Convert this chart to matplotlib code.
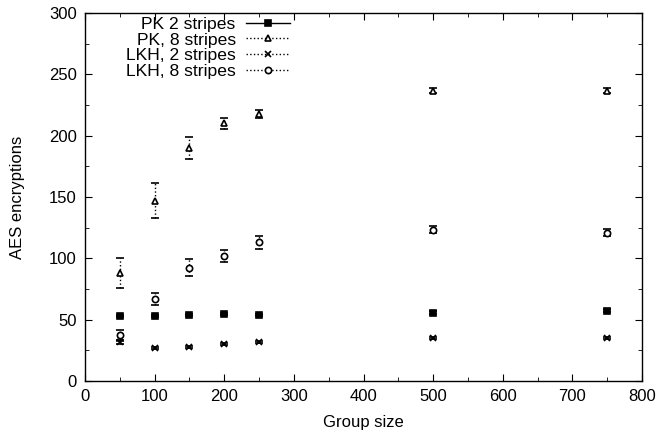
import numpy as np
import matplotlib
matplotlib.use('Agg')
import matplotlib.pyplot as plt
from matplotlib.lines import Line2D
from matplotlib.ticker import MultipleLocator

plt.rcParams['font.family'] = ['Liberation Sans', 'DejaVu Sans']

group_size = [50, 100, 150, 200, 250, 500, 750]

pk2 = [53, 53, 54, 54.6, 54, 55.7, 57.3]
pk2_err = [1, 1, 1, 1, 1, 1, 1]

pk8 = [88, 147, 190, 210, 217.5, 236.5, 236.5]
pk8_err = [12, 14.5, 9, 4.5, 3.5, 2, 2]

lkh2 = [31.5, 27, 28, 30, 31.8, 34.8, 34.8]
lkh2_err = [1, 0.8, 0.8, 0.8, 0.8, 0.8, 0.8]

lkh8 = [37.5, 67, 92.2, 102, 113, 123.5, 121]
lkh8_err = [4, 5, 7, 5, 5, 3, 3]

labels = ['PK 2 stripes', 'PK, 8 stripes', 'LKH, 2 stripes', 'LKH, 8 stripes']

fs = 12

fig = plt.figure(figsize=(6.59, 4.36), dpi=100)
ax = fig.add_axes([85 / 659, 1 - 381 / 436, (642 - 85) / 659, (381 - 13) / 436])

series = [
    (pk2, pk2_err, 's', 'black', '-', 5),
    (pk8, pk8_err, '^', 'white', ':', 4.5),
    (lkh2, lkh2_err, 'x', 'black', ':', 4.5),
    (lkh8, lkh8_err, 'o', 'white', ':', 4.5),
]

handles = []
for (vals, err, mk, fc, ls, ms), lab in zip(series, labels):
    eb = ax.errorbar(group_size, vals, yerr=err, fmt=mk, color='black',
                     mfc=fc, mec='black', ms=ms, mew=1.2, ecolor='black',
                     elinewidth=1, capsize=3, capthick=1)
    eb[2][0].set_linestyle(ls)
    handles.append(Line2D([], [], color='black', linestyle=ls, lw=1,
                          marker=mk, mfc=fc, mec='black', ms=ms, mew=1.2))

ax.set_xlim(0, 800)
ax.set_ylim(0, 300)
ax.xaxis.set_major_locator(MultipleLocator(100))
ax.xaxis.set_minor_locator(MultipleLocator(50))
ax.yaxis.set_major_locator(MultipleLocator(50))
ax.yaxis.set_minor_locator(MultipleLocator(25))
ax.tick_params(which='both', direction='in', top=True, right=True, labelsize=fs)
ax.tick_params(which='major', length=5, pad=6)
ax.tick_params(which='minor', length=3)
for s in ax.spines.values():
    s.set_linewidth(1)

ax.set_xlabel('Group size', fontsize=fs, labelpad=8)
ax.set_ylabel('AES encryptions', fontsize=fs, labelpad=17)

ax.legend(handles, labels, loc='upper right', bbox_to_anchor=(0.368, 0.99),
          markerfirst=False, frameon=False, fontsize=12.6, handlelength=2.5,
          labelspacing=0.02, handletextpad=0.6, borderaxespad=0, borderpad=0)

fig.savefig('out.png', dpi=100)
